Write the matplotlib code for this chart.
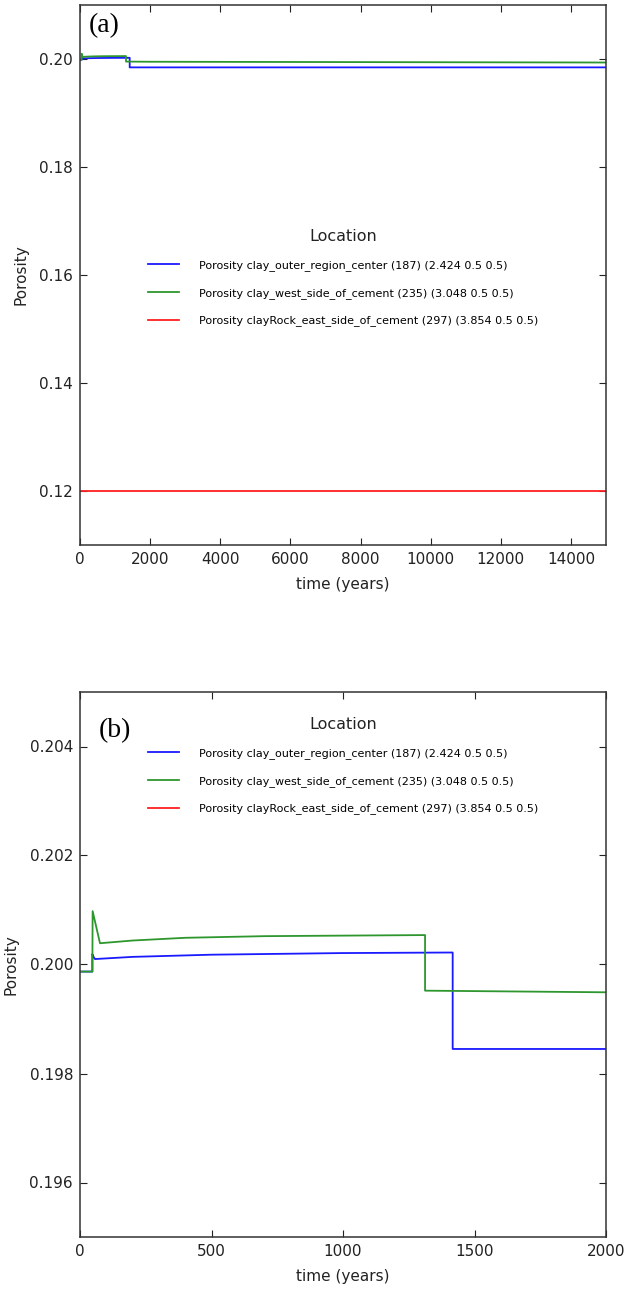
import matplotlib
matplotlib.use('Agg')
import matplotlib.pyplot as plt

# --- dados ---
labels = ['Porosity clay_outer_region_center (187) (2.424 0.5 0.5)',
          'Porosity clay_west_side_of_cement (235) (3.048 0.5 0.5)',
          'Porosity clayRock_east_side_of_cement (297) (3.854 0.5 0.5)']

t_blue = [0, 47, 47, 50, 57, 200, 500, 1000, 1417, 1417, 2000, 15000]
p_blue = [0.19987, 0.19987, 0.20019, 0.20015, 0.20010, 0.20014, 0.20018,
          0.20021, 0.20022, 0.19845, 0.19845, 0.19845]

t_green = [0, 47, 48, 76, 200, 400, 700, 1000, 1312, 1312, 2000, 15000]
p_green = [0.19987, 0.19987, 0.20098, 0.20039, 0.20044, 0.20049, 0.20052,
           0.20053, 0.20054, 0.19952, 0.19949, 0.19935]

t_red = [0, 15000]
p_red = [0.12, 0.12]

xticks_a = [0, 2000, 4000, 6000, 8000, 10000, 12000, 14000]
yticks_a = [0.12, 0.14, 0.16, 0.18, 0.20]
xticks_b = [0, 500, 1000, 1500, 2000]
yticks_b = [0.196, 0.198, 0.200, 0.202, 0.204]

cores = ['#1a1aff', '#2e962e', '#ff2020']

fig = plt.figure(figsize=(6.28, 12.89), dpi=100)
ax1 = fig.add_axes([80/628, 1-545/1289, 526/628, 540/1289])
ax2 = fig.add_axes([80/628, 1-1237/1289, 526/628, 545/1289])


def desenha(ax, xlim, ylim, xt, yt, fmt, painel, pos_painel, leg_y):
    ax.plot(t_blue, p_blue, color=cores[0], lw=1.3, label=labels[0])
    ax.plot(t_green, p_green, color=cores[1], lw=1.3, label=labels[1])
    ax.plot(t_red, p_red, color=cores[2], lw=1.3, label=labels[2])
    ax.set_xlim(*xlim)
    ax.set_ylim(*ylim)
    ax.set_xticks(xt)
    ax.set_yticks(yt)
    ax.set_yticklabels([fmt % v for v in yt])
    ax.tick_params(direction='in', length=5, width=0.8, top=True, right=True,
                   labelsize=11, colors='#222222', pad=5)
    for s in ax.spines.values():
        s.set_linewidth(1.1)
        s.set_color('#333333')
    ax.set_xlabel('time (years)', fontsize=11, color='#222222', labelpad=7)
    ax.set_ylabel('Porosity', fontsize=11, color='#222222', labelpad=8)
    ax.text(pos_painel[0], pos_painel[1], painel, transform=ax.transAxes,
            family='Liberation Serif', fontsize=20, va='top', ha='left')
    leg = ax.legend(loc='upper center', bbox_to_anchor=(0.5, leg_y), frameon=False,
                    title='Location', fontsize=8, title_fontsize=11.5,
                    handlelength=2.8, handletextpad=1.8, labelspacing=1.5,
                    borderpad=0)
    leg.get_title().set_color('#222222')


desenha(ax1, (0, 15000), (0.11, 0.21), xticks_a, yticks_a, '%.2f', '(a)',
        (0.016, 0.985), 0.596)
desenha(ax2, (0, 2000), (0.195, 0.205), xticks_b, yticks_b, '%.3f', '(b)',
        (0.036, 0.952), 0.965)

plt.savefig('out.png', dpi=100)
